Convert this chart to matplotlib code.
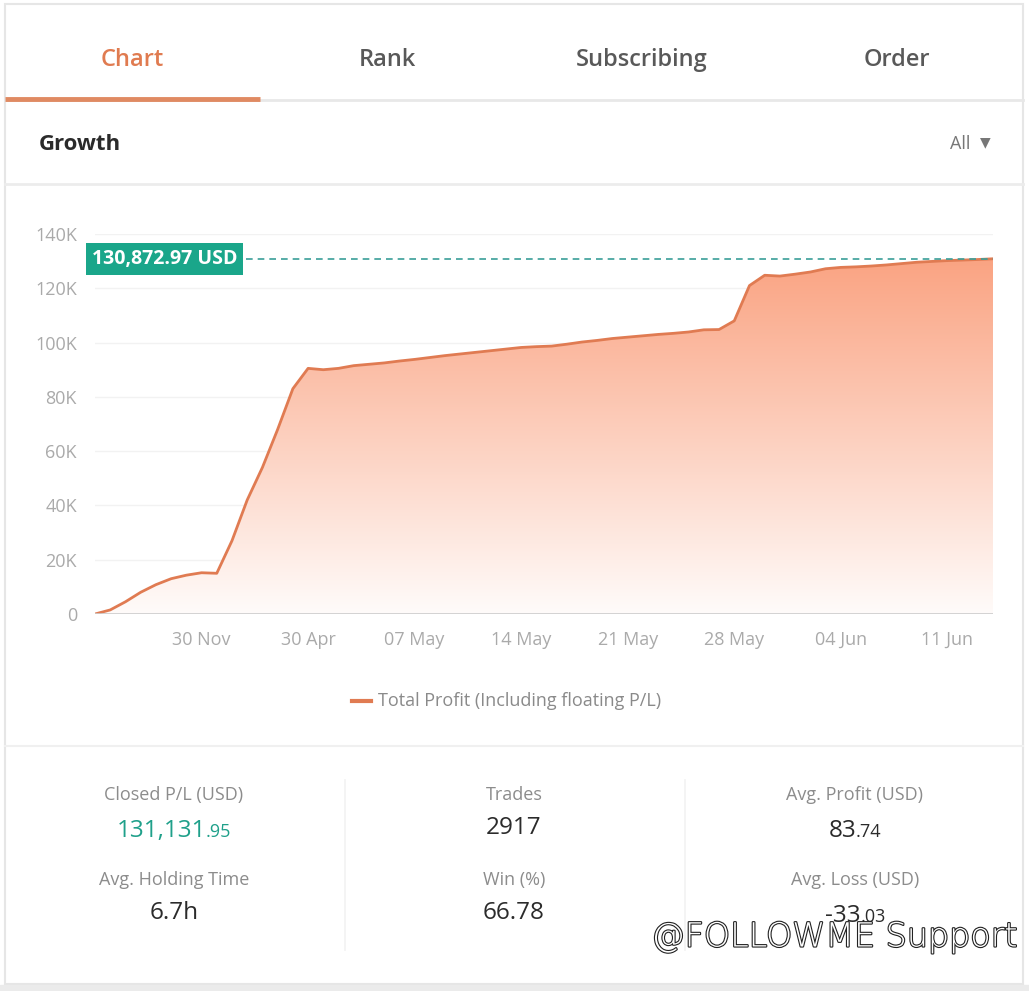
import numpy as np
import matplotlib
matplotlib.use("Agg")
import matplotlib.pyplot as plt
from matplotlib.colors import LinearSegmentedColormap
import matplotlib.patheffects as pe

plt.rcParams['font.family'] = ['Open Sans', 'DejaVu Sans']

# total profit (USD), one point per category
profit = [0, 1500, 4500, 8000, 10800, 13000, 14300, 15200, 15000, 27000,
          42000, 54000, 68000, 83000, 90500, 90000, 90500, 91500, 92000, 92500,
          93200, 93800, 94500, 95200, 95800, 96400, 97000, 97600, 98200, 98500,
          98700, 99400, 100200, 100800, 101500, 102000, 102500, 103000, 103400, 103900,
          104700, 104800, 108000, 121000, 124800, 124500, 125200, 126000, 127200, 127700,
          127900, 128200, 128600, 129100, 129600, 129900, 130200, 130400, 130600, 130872.97]
tick_labels = ['30 Nov', '30 Apr', '07 May', '14 May', '21 May', '28 May', '04 Jun', '11 Jun']
tick_pos = [7, 14, 21, 28, 35, 42, 49, 56]
y_ticks = [0, 20000, 40000, 60000, 80000, 100000, 120000, 140000]
y_labels = ['0', '20K', '40K', '60K', '80K', '100K', '120K', '140K']
tabs = ['Chart', 'Rank', 'Subscribing', 'Order']
stat_labels = [['Closed P/L (USD)', 'Trades', 'Avg. Profit (USD)'],
               ['Avg. Holding Time', 'Win (%)', 'Avg. Loss (USD)']]
stat_values = [[('131,131', '.95'), ('2917', ''), ('83', '.74')],
               [('6.7h', ''), ('66.78', ''), ('-33', '.03')]]

W, H = 1029, 991
fig = plt.figure(figsize=(W / 100, H / 100), dpi=100)
fig.patch.set_facecolor('white')


def fx(px):
    return px / W


def fy(py):
    return 1 - py / H


# page frame and separators
bg = fig.add_axes([0, 0, 1, 1], zorder=-5)
bg.set_xlim(0, W)
bg.set_ylim(H, 0)
bg.axis('off')
bg.add_patch(plt.Rectangle((5, 4), 1018, 980, fill=False, ec='#e6e6e6', lw=1.5))
bg.add_patch(plt.Rectangle((0, 985), W, 6, color='#ebebeb'))
bg.plot([5, 1023], [100, 100], color='#e8e8e8', lw=2)
bg.plot([5, 260], [99, 99], color='#e08a62', lw=3.5, solid_capstyle='butt')
bg.plot([5, 1023], [184, 184], color='#ececec', lw=2)
bg.plot([5, 1023], [746, 746], color='#f0f0f0', lw=1.5)
bg.plot([345, 345], [780, 950], color='#f2f2f2', lw=1.2)
bg.plot([685, 685], [780, 950], color='#f2f2f2', lw=1.2)

tab_x = [132, 387, 642, 897]
for i, t in enumerate(tabs):
    fig.text(fx(tab_x[i]), fy(60), t, ha='center', va='center', fontsize=17,
             color='#e07b50' if i == 0 else '#595959', fontweight='semibold')

fig.text(fx(39), fy(144), 'Growth', ha='left', va='center', fontsize=16,
         fontweight='bold', color='#2b2b2b')
fig.text(fx(970), fy(144), 'All', ha='right', va='center', fontsize=13, color='#777777')
fig.text(fx(985), fy(142), '\u25BC', ha='center', va='center', fontsize=10, color='#777777',
         family=['DejaVu Sans'])

# chart
ax = fig.add_axes([fx(95), fy(614), fx(993) - fx(95), fy(234) - fy(614)])
x = np.arange(len(profit))
y = np.array(profit)
ax.set_xlim(0, len(profit) - 1)
ax.set_ylim(0, 140000)

fill = ax.fill_between(x, 0, y, color='none', lw=0)
cmap = LinearSegmentedColormap.from_list('g', [(1.0, 0.985, 0.98), (0.98, 0.64, 0.51)])
grad = np.linspace(0, 1, 256).reshape(-1, 1)
img = ax.imshow(grad, extent=(0, len(profit) - 1, 0, max(profit)), origin='lower',
                aspect='auto', cmap=cmap, zorder=1)
img.set_clip_path(fill.get_paths()[0], transform=ax.transData)
ax.plot(x, y, color='#e07b52', lw=2, zorder=3, solid_joinstyle='round')

for v in y_ticks[1:]:
    ax.axhline(v, color='#f2f2f2', lw=1, zorder=0)
ax.axhline(0, color='#cccccc', lw=1.2, zorder=4)

for s in ax.spines.values():
    s.set_visible(False)
ax.set_yticks(y_ticks)
ax.set_yticklabels(y_labels)
ax.set_xticks(tick_pos)
ax.set_xticklabels(tick_labels)
ax.tick_params(length=0, labelsize=13, labelcolor='#aaaaaa')
ax.tick_params(axis='y', pad=13)
ax.tick_params(axis='x', pad=12)

last = profit[-1]
ax.plot([9.9, len(profit) - 1], [last, last], color='#3a9e98', lw=1.2,
        dashes=(4, 3), zorder=5)
ax.text(-0.2, last, '{:,.2f} USD'.format(last), ha='left', va='center', fontsize=14,
        fontweight='bold', color='white', zorder=6, clip_on=False,
        bbox=dict(boxstyle='square,pad=0.3', fc='#1aa68a', ec='none'))

# legend
bg.plot([352, 371], [701, 701], color='#e07b52', lw=3)
fig.text(fx(378), fy(701), 'Total Profit (Including floating P/L)', ha='left', va='center',
         fontsize=13, color='#8a8a8a')

# stats
col_x = [174, 514, 855]
lab_y = [795, 880]
val_y = [828, 913]
for r in range(2):
    for c in range(3):
        fig.text(fx(col_x[c]), fy(lab_y[r]), stat_labels[r][c], ha='center', va='center',
                 fontsize=13, color='#8c8c8c')
        big, small = stat_values[r][c]
        col = '#1fa08a' if (r == 0 and c == 0) else '#2b2b2b'
        if small:
            t1 = fig.text(0, 0, big, fontsize=17.5, color=col)
            t2 = fig.text(0, 0, small, fontsize=13, color=col)
            rend = fig.canvas.get_renderer()
            w1 = t1.get_window_extent(rend).width
            w2 = t2.get_window_extent(rend).width
            left = col_x[c] - (w1 + w2) / 2
            t1.set_position((fx(left), fy(val_y[r] + 9)))
            t1.set_va('baseline')
            t2.set_position((fx(left + w1), fy(val_y[r] + 9)))
            t2.set_va('baseline')
        else:
            fig.text(fx(col_x[c]), fy(val_y[r]), big, ha='center', va='center',
                     fontsize=17.5, color=col)

# watermark
fig.text(fx(1018), fy(937), '@FOLLOWME Support', ha='right', va='center', fontsize=24,
         color='white', family=['DejaVu Sans'], fontweight='light',
         path_effects=[pe.withStroke(linewidth=1.6, foreground='#222222')])

fig.savefig('out.png', dpi=100)
